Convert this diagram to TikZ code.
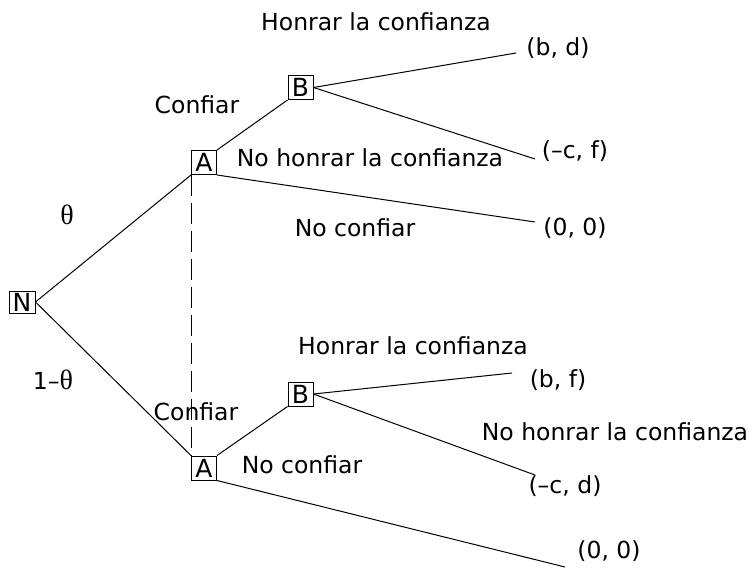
\documentclass[tikz,border=0pt]{standalone}
\usepackage{fontspec}
\setmainfont{DejaVu Sans}
\newfontfamily\thetafont{Liberation Serif}
\newcommand{\thetasym}{{\thetafont\fontsize{28}{30}\selectfont θ}}
\begin{document}
\begin{tikzpicture}[x=1pt,y=-1pt,
  every node/.style={font=\fontsize{23.5}{26}\selectfont},
  lbl/.style={inner sep=0pt},
  player/.style={draw,line width=1pt,inner sep=0pt,minimum width=25pt,minimum height=24pt,font=\fontsize{25}{26}\selectfont},
  edge/.style={line width=1pt},
  info/.style={line width=1pt,dash pattern=on 21pt off 7pt}]
\useasboundingbox (0,0) rectangle (753,570);
% decision nodes
\node[player,minimum width=26pt,minimum height=22pt] (N) at (22,302) {N};
\node[player] (A1) at (204,162.5) {A};
\node[player] (B1) at (300.5,87.5) {B};
\node[player] (A2) at (204,468) {A};
\node[player] (B2) at (300.5,394) {B};
% terminal ends
\coordinate (e1) at (516,53);
\coordinate (e2) at (535,159);
\coordinate (e3) at (535,222);
\coordinate (e4) at (512,373);
\coordinate (e5) at (535,475);
\coordinate (e6) at (565,567);
% edges
\draw[edge] (N.east) -- (A1.south west);
\draw[edge] (N.east) -- (A2.north west);
\draw[edge] (A1.north east) -- (B1.south west);
\draw[edge] (A1.south east) -- (e3);
\draw[edge] (B1.east) -- (e1);
\draw[edge] (B1.east) -- (e2);
\draw[edge] (A2.north east) -- (B2.south west);
\draw[edge] (A2.south east) -- (e6);
\draw[edge] (B2.east) -- (e4);
\draw[edge] (B2.east) -- (e5);
\draw[info] (A1.south west) -- (A2.north west);
% labels
\node[lbl] (l1) at (376,22) {Honrar la confianza};
\node[lbl] (p1) at (558,48) {(b, d)};
\node[lbl] (l2) at (197,105) {Confiar};
\node[lbl] (l3) at (370,158) {No honrar la confianza};
\node[lbl] (p2) at (575,151) {(–c, f)};
\node[lbl] (t1) at (67,215) {\thetasym};
\node[lbl] (l4) at (355,228) {No confiar};
\node[lbl] (p3) at (575,228) {(0, 0)};
\node[lbl] (t2) at (53,380) {1–\thetasym};
\node[lbl] (l5) at (413,346) {Honrar la confianza};
\node[lbl] (p4) at (558,380) {(b, f)};
\node[lbl] (l6) at (196,412) {Confiar};
\node[lbl] (l7) at (615,432) {No honrar la confianza};
\node[lbl] (l8) at (302,465) {No confiar};
\node[lbl] (p5) at (565,486) {(–c, d)};
\node[lbl] (p6) at (609,551) {(0, 0)};
\end{tikzpicture}
\end{document}
